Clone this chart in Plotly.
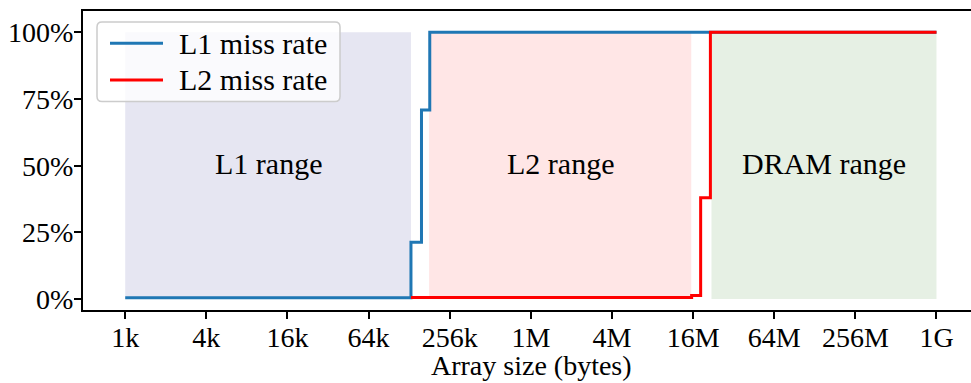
import numpy as np
import plotly.graph_objects as go

K = 1024
M = 1024 * 1024
G = 1024 * 1024 * 1024

# L1 miss rate (step data)
l1_size = [1 * K, 132 * K, 158 * K, 182 * K, 1 * G]
l1_rate = [0.005, 0.213, 0.709, 1.0, 1.0]

# L2 miss rate (step data)
l2_size = [132 * K, 15.6 * M, 18.2 * M, 21.5 * M, 1 * G]
l2_rate = [0.006, 0.013, 0.38, 1.0, 1.0]

# shaded ranges
range_names = ["L1 range", "L2 range", "DRAM range"]
range_start = [1 * K, 180 * K, 21.9 * M]
range_end = [132 * K, 15.5 * M, 1 * G]
range_colors = ["#e6e6f2", "#ffe6e6", "#e6f0e4"]

tick_vals = [2 ** p for p in range(10, 31, 2)]
tick_text = ["1k", "4k", "16k", "64k", "256k", "1M", "4M", "16M", "64M", "256M", "1G"]
y_ticks = [0, 0.25, 0.5, 0.75, 1.0]
y_text = ["0%", "25%", "50%", "75%", "100%"]

series_names = ["L1 miss rate", "L2 miss rate"]
series_colors = ["#1f77b4", "#ff0000"]
x_title = "Array size (bytes)"

FONT = "Liberation Serif"
W, H = 971, 383
ML, MR, MT, MB = 83, 0, 11, 73
PW, PH = W - ML - MR, H - MT - MB


def px(x):
    return (x - ML) / PW


def py(y):
    return (H - MB - y) / PH


fig = go.Figure()

for name, a, b, c in zip(range_names, range_start, range_end, range_colors):
    fig.add_trace(go.Scatter(
        x=[a, b, b, a, a], y=[0, 0, 1, 1, 0], mode="lines",
        fill="toself", fillcolor=c, line=dict(width=0, color=c),
        showlegend=False, hoverinfo="skip"))
    fig.add_annotation(
        x=np.log10(np.sqrt(a * b)), y=0.51, xref="x", yref="y",
        text=name, showarrow=False, font=dict(size=30, family=FONT, color="black"),
        xanchor="center", yanchor="middle")

fig.add_trace(go.Scatter(x=l1_size, y=l1_rate, mode="lines", name=series_names[0],
                         line=dict(color=series_colors[0], width=3, shape="hv"),
                         showlegend=False))
fig.add_trace(go.Scatter(x=l2_size, y=l2_rate, mode="lines", name=series_names[1],
                         line=dict(color=series_colors[1], width=3, shape="hv"),
                         showlegend=False))

# legend box (rounded) drawn in paper coordinates
bx0, bx1, by0, by1, r = 97, 340, 22, 101.5, 5
path = (f"M {px(bx0 + r)},{py(by0)} L {px(bx1 - r)},{py(by0)} "
        f"Q {px(bx1)},{py(by0)} {px(bx1)},{py(by0 + r)} "
        f"L {px(bx1)},{py(by1 - r)} Q {px(bx1)},{py(by1)} {px(bx1 - r)},{py(by1)} "
        f"L {px(bx0 + r)},{py(by1)} Q {px(bx0)},{py(by1)} {px(bx0)},{py(by1 - r)} "
        f"L {px(bx0)},{py(by0 + r)} Q {px(bx0)},{py(by0)} {px(bx0 + r)},{py(by0)} Z")
fig.add_shape(type="path", path=path, xref="paper", yref="paper",
              fillcolor="rgba(255,255,255,0.8)", line=dict(color="#cccccc", width=1.5))
for i, (nm, col) in enumerate(zip(series_names, series_colors)):
    yc = 43.3 + i * 36.7
    fig.add_shape(type="line", xref="paper", yref="paper",
                  x0=px(110), x1=px(163), y0=py(yc), y1=py(yc),
                  line=dict(color=col, width=3))
    fig.add_annotation(x=px(177), y=py(yc), xref="paper", yref="paper",
                       text=nm, showarrow=False, xanchor="left", yanchor="middle",
                       font=dict(size=30, family=FONT, color="black"))

# x axis title
fig.add_annotation(x=px(531), y=py(366), xref="paper", yref="paper",
                   text=x_title, showarrow=False, xanchor="center", yanchor="middle",
                   font=dict(size=28, family=FONT, color="black"))

fig.update_layout(
    width=W, height=H,
    margin=dict(l=ML, r=MR, t=MT, b=MB),
    plot_bgcolor="white", paper_bgcolor="white",
    font=dict(family=FONT, size=28, color="black"),
    showlegend=False,
)
fig.update_xaxes(
    type="log", range=[2.697, 9.287],
    tickvals=tick_vals, ticktext=tick_text,
    ticks="outside", ticklen=7, tickwidth=2, tickcolor="black",
    showline=True, linewidth=2, linecolor="black", mirror=True,
    showgrid=False, zeroline=False, automargin=False,
    ticklabelstandoff=-6,
)
fig.update_yaxes(
    range=[-0.0412, 1.0801], tickvals=y_ticks, ticktext=y_text,
    ticks="outside", ticklen=7, tickwidth=2, tickcolor="black",
    showline=True, linewidth=2, linecolor="black",
    showgrid=False, zeroline=False, automargin=False,
    ticklabelstandoff=-5,
)

fig.write_html("out.html")
